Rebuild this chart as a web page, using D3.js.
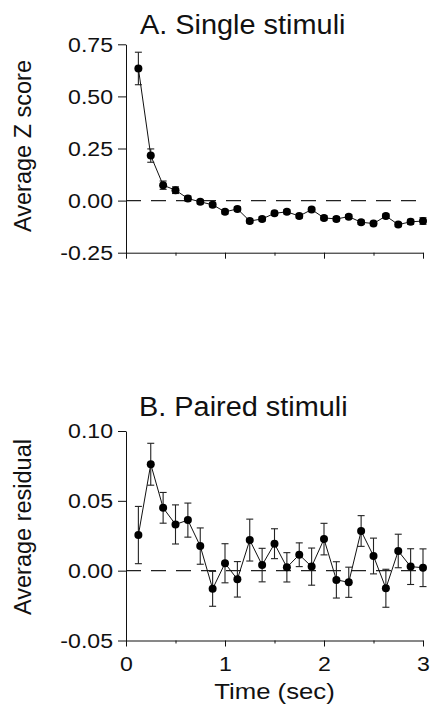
<!DOCTYPE html>
<html>
<head>
<meta charset="utf-8">
<script src="https://cdn.jsdelivr.net/npm/d3@7"></script>
<style>
  body { margin: 0; background: #fff; }
  svg { display: block; font-family: "Liberation Sans", Arial, sans-serif; }
</style>
</head>
<body>
<div id="chart"></div>
<script>
// time bins (sec)
var times = [0.125, 0.25, 0.375, 0.5, 0.625, 0.75, 0.875, 1.0, 1.125, 1.25, 1.375, 1.5,
             1.625, 1.75, 1.875, 2.0, 2.125, 2.25, 2.375, 2.5, 2.625, 2.75, 2.875, 3.0];

// A. single stimuli - average Z score
var singleMean = [0.634, 0.216, 0.074, 0.05, 0.01, -0.006, -0.02, -0.054, -0.04, -0.098, -0.088, -0.061,
                  -0.054, -0.074, -0.043, -0.083, -0.088, -0.077, -0.104, -0.11, -0.074, -0.115, -0.102, -0.098];
var singleErr = [0.078, 0.032, 0.02, 0.016, 0.012, 0.01, 0.01, 0.01, 0.01, 0.01, 0.01, 0.01,
                 0.01, 0.01, 0.01, 0.01, 0.01, 0.01, 0.01, 0.01, 0.01, 0.01, 0.012, 0.016];

// B. paired stimuli - average residual
var pairedMean = [0.0255, 0.0762, 0.045, 0.0331, 0.0362, 0.0176, -0.013, 0.0053, -0.0062, 0.0219, 0.004, 0.0193,
                  0.0024, 0.0114, 0.0029, 0.0226, -0.0066, -0.0083, 0.0284, 0.0105, -0.0126, 0.0141, 0.0029, 0.0021];
var pairedErr = [0.0205, 0.015, 0.011, 0.014, 0.0122, 0.013, 0.0125, 0.014, 0.0127, 0.015, 0.012, 0.0107,
                 0.0105, 0.0085, 0.0133, 0.0113, 0.013, 0.0108, 0.011, 0.0128, 0.0136, 0.012, 0.0128, 0.0135];

var singleTicks = [-0.25, 0, 0.25, 0.5, 0.75];
var singleTickLabels = ["-0.25", "0.00", "0.25", "0.50", "0.75"];
var pairedTicks = [-0.05, 0, 0.05, 0.1];
var pairedTickLabels = ["-0.05", "0.00", "0.05", "0.10"];
var xMajorTicks = [0, 1, 2, 3];
var xMinorTicks = [0.5, 1.5, 2.5];

var W = 430, H = 707;
var svg = d3.select("#chart").append("svg")
    .attr("width", W)
    .attr("height", H);
svg.append("rect").attr("width", W).attr("height", H).attr("fill", "#fff");

var x = d3.scaleLinear().domain([0, 3]).range([126, 423]);

// stretch text a bit sideways, the scan is wider than tall
function stretch(sel, k) {
    sel.each(function(){
        var t = d3.select(this);
        var tx = +t.attr("x") || 0;
        t.attr("x", 0).attr("transform", "translate(" + tx + ",0) scale(" + k + ",1)");
    });
}

function panel(opts) {
    var y = d3.scaleLinear().domain(opts.domain).range([opts.bottom, opts.top]);
    var g = svg.append("g");

    // zero line
    g.append("line")
        .attr("x1", x(0)).attr("x2", x(3))
        .attr("y1", y(0)).attr("y2", y(0))
        .attr("stroke", "#222")
        .attr("stroke-width", 1.4)
        .attr("stroke-dasharray", "15,10");

    // y axis
    var yAxis = g.append("g")
        .attr("transform", "translate(" + x(0) + ",0)")
        .call(d3.axisLeft(y).tickValues(opts.ticks).tickSize(8).tickSizeOuter(0).tickPadding(5)
            .tickFormat(function(d, i){ return opts.tickLabels[opts.ticks.indexOf(d)]; }));
    yAxis.selectAll("text").attr("font-size", 21).attr("fill", "#111")
        .attr("font-family", "'Liberation Sans', Arial, sans-serif");
    stretch(yAxis.selectAll("text"), 1.1);

    // x axis (major + minor ticks)
    var xAxis = g.append("g")
        .attr("transform", "translate(0," + opts.bottom + ")")
        .call(d3.axisBottom(x).tickValues(xMajorTicks).tickSize(6).tickSizeOuter(0).tickPadding(10)
            .tickFormat(opts.xLabels ? d3.format("d") : function(){ return ""; }));
    xAxis.selectAll("text").attr("font-size", 21).attr("fill", "#111")
        .attr("font-family", "'Liberation Sans', Arial, sans-serif");
    stretch(xAxis.selectAll("text"), 1.1);
    g.append("g")
        .attr("transform", "translate(0," + opts.bottom + ")")
        .call(d3.axisBottom(x).tickValues(xMinorTicks).tickSize(3).tickFormat(""))
        .select(".domain").remove();
    g.selectAll(".domain, .tick line").attr("stroke", "#111");

    // error bars
    var err = g.selectAll(".err").data(opts.mean).enter().append("g").attr("class", "err");
    err.append("line")
        .attr("x1", function(d, i){ return x(times[i]); })
        .attr("x2", function(d, i){ return x(times[i]); })
        .attr("y1", function(d, i){ return y(d - opts.err[i]); })
        .attr("y2", function(d, i){ return y(d + opts.err[i]); })
        .attr("stroke", "#222").attr("stroke-width", 1.1);
    [-1, 1].forEach(function(s){
        err.append("line")
            .attr("x1", function(d, i){ return x(times[i]) - 3.5; })
            .attr("x2", function(d, i){ return x(times[i]) + 3.5; })
            .attr("y1", function(d, i){ return y(d + s * opts.err[i]); })
            .attr("y2", function(d, i){ return y(d + s * opts.err[i]); })
            .attr("stroke", "#222").attr("stroke-width", 1.1);
    });

    // connecting line
    var line = d3.line()
        .x(function(d, i){ return x(times[i]); })
        .y(function(d){ return y(d); });
    g.append("path")
        .attr("d", line(opts.mean))
        .attr("fill", "none")
        .attr("stroke", "#111")
        .attr("stroke-width", 1);

    g.selectAll(".dot").data(opts.mean).enter().append("circle")
        .attr("class", "dot")
        .attr("cx", function(d, i){ return x(times[i]); })
        .attr("cy", function(d){ return y(d); })
        .attr("r", 4)
        .attr("fill", "#000");

    // title
    var title = g.append("text")
        .attr("x", opts.titleX).attr("y", opts.titleY)
        .attr("font-size", 27).attr("fill", "#111")
        .text(opts.title);
    stretch(title, 1.07);

    // y label
    g.append("text")
        .attr("transform", "translate(31," + opts.labelY + ") rotate(-90)")
        .attr("text-anchor", "middle")
        .attr("font-size", 23.5).attr("fill", "#111")
        .text(opts.ylabel);
}

panel({
    domain: [-0.25, 0.75], top: 44.3, bottom: 252.7,
    ticks: singleTicks, tickLabels: singleTickLabels,
    mean: singleMean, err: singleErr,
    title: "A. Single stimuli", titleX: 140, titleY: 34,
    ylabel: "Average Z score", labelY: 146,
    xLabels: false
});

panel({
    domain: [-0.05, 0.1], top: 431, bottom: 640.5,
    ticks: pairedTicks, tickLabels: pairedTickLabels,
    mean: pairedMean, err: pairedErr,
    title: "B. Paired stimuli", titleX: 139, titleY: 416,
    ylabel: "Average residual", labelY: 527,
    xLabels: true
});

var xlab = svg.append("text")
    .attr("x", x(1.5)).attr("y", 699)
    .attr("text-anchor", "middle")
    .attr("font-size", 23).attr("fill", "#111")
    .text("Time (sec)");
stretch(xlab, 1.12);
</script>
</body>
</html>
